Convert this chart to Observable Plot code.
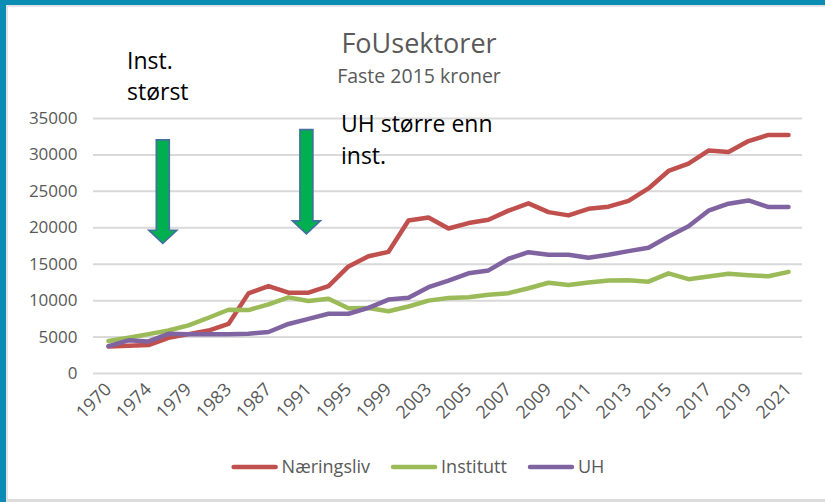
<!DOCTYPE html>
<html>
<head>
<meta charset="utf-8">
<script src="https://cdn.jsdelivr.net/npm/d3@7"></script>
<script src="https://cdn.jsdelivr.net/npm/@observablehq/plot@0.6"></script>
<style>
  html, body { margin: 0; padding: 0; background: #fff; }
  #chart { position: relative; width: 825px; height: 502px; overflow: hidden; background: #fff; font-family: "Open Sans", sans-serif; }
  #chart svg { position: absolute; left: 0; top: 0; }
  .band-top { position: absolute; left: 0; top: 0; width: 825px; height: 5px; background: #0a8cb4; z-index: 3; }
  .line-top { position: absolute; left: 0; top: 5px; width: 825px; height: 2px; background: #e3e3e3; z-index: 2; }
  .band-left { position: absolute; left: 0; top: 0; width: 6px; height: 502px; background: #0a8cb4; z-index: 3; }
  .line-left { position: absolute; left: 6px; top: 0; width: 2px; height: 502px; background: #e3e3e3; z-index: 2; }
  .line-bottom { position: absolute; left: 0; top: 499px; width: 825px; height: 3px; background: #dcdcdc; z-index: 2; }
</style>
</head>
<body>
<div id="chart">
  <div class="band-top"></div><div class="line-top"></div>
  <div class="band-left"></div><div class="line-left"></div>
  <div class="line-bottom"></div>
</div>
<script>
// ---- data ----
const years = ["1970","1972","1974","1977","1979","1981","1983","1985","1987","1989","1991","1993","1995","1997","1999","2001","2003","2004","2005","2006","2007","2008","2009","2010","2011","2012","2013","2014","2015","2016","2017","2018","2019","2020","2021"];
const naeringsliv = [3700,3800,3900,4900,5400,5900,6800,11000,12000,11100,11100,12000,14700,16100,16700,21000,21400,19900,20650,21100,22350,23350,22150,21700,22600,22900,23700,25400,27800,28800,30600,30400,31900,32750,32750];
const institutt   = [4450,4900,5400,5900,6600,7650,8750,8700,9500,10450,9950,10250,8950,9000,8550,9200,10000,10350,10480,10800,11030,11700,12450,12150,12500,12750,12800,12600,13750,12950,13300,13700,13500,13350,13950];
const uh          = [3750,4550,4400,5450,5400,5400,5400,5450,5700,6800,7500,8200,8200,9000,10150,10400,11850,12750,13750,14150,15750,16650,16300,16300,15900,16300,16800,17250,18800,20200,22350,23300,23750,22850,22850];
const seriesNames = ["Næringsliv","Institutt","UH"];
const seriesColors = ["#c0504d","#9bbb59","#8064a2"];
const yTicks = [0,5000,10000,15000,20000,25000,30000,35000];
const xTickLabels = years.filter((d, i) => i % 2 === 0);
const titleText = "FoUsektorer";
const subtitleText = "Faste 2015 kroner";
const noteLeft = ["Inst.", "størst"];
const noteRight = ["UH større enn", "inst."];
// arrow annotations: anchor category, fraction of a step to the next category, top value, tip value
const arrowNotes = [
  {year: "1974", frac: 0.74, top: 32000, tip: 17800},
  {year: "1991", frac: -0.08, top: 33400, tip: 19100}
];

// ---- table ----
const seriesValues = [naeringsliv, institutt, uh];
const rows = [];
seriesNames.forEach((s, k) => {
  years.forEach((y, i) => rows.push({year: y, value: seriesValues[k][i], series: s}));
});

const textColor = "#595959";

const plot = Plot.plot({
  width: 825,
  height: 502,
  marginLeft: 93,
  marginRight: 23,
  marginTop: 118,
  marginBottom: 129,
  style: {fontFamily: "Open Sans, sans-serif", fontSize: "17px", color: textColor, background: "transparent", overflow: "visible"},
  x: {type: "point", domain: years, padding: 0.5},
  y: {domain: [0, 35000]},
  color: {domain: seriesNames, range: seriesColors},
  marks: [
    Plot.gridY(yTicks, {stroke: "#d9d9d9", strokeOpacity: 1, strokeWidth: 2}),
    Plot.axisY(yTicks, {tickSize: 0, tickPadding: 16, tickFormat: d => String(d), label: null, fill: textColor, fontSize: 17}),
    Plot.axisX(xTickLabels, {tickSize: 0, tickPadding: 13, tickRotate: -45, label: null, fill: textColor, fontSize: 18}),
    Plot.line(rows, {x: "year", y: "value", z: "series", stroke: "series", strokeWidth: 4.5, strokeLinejoin: "round", strokeLinecap: "round"})
  ]
});

document.getElementById("chart").appendChild(plot);

// ---- annotations ----
const svg = d3.select(plot);
const xs = plot.scale("x");
const ys = plot.scale("y");
const step = xs.apply(years[1]) - xs.apply(years[0]);

arrowNotes.forEach(a => {
  const cx = xs.apply(a.year) + a.frac * step;
  const yTop = ys.apply(a.top);
  const yTip = ys.apply(a.tip);
  const sw = 6.5, hw = 14, hl = 13;
  const pts = [[cx - sw, yTop], [cx + sw, yTop], [cx + sw, yTip - hl], [cx + hw, yTip - hl], [cx, yTip], [cx - hw, yTip - hl], [cx - sw, yTip - hl]];
  svg.append("polygon")
    .attr("points", pts.map(p => p.join(",")).join(" "))
    .attr("fill", "#00b050")
    .attr("stroke", "#41719c")
    .attr("stroke-width", 1.6)
    .attr("stroke-linejoin", "miter");
});

const g = svg.append("g").attr("font-family", "Open Sans, sans-serif");
g.append("text").attr("x", 419).attr("y", 53).attr("text-anchor", "middle")
  .attr("font-size", 27).attr("fill", textColor).text(titleText);
g.append("text").attr("x", 419).attr("y", 83).attr("text-anchor", "middle")
  .attr("font-size", 19.5).attr("fill", textColor).text(subtitleText);

noteLeft.forEach((t, i) => g.append("text").attr("x", 127).attr("y", 69 + i * 31)
  .attr("text-anchor", "start").attr("font-size", 23).attr("fill", "#000").text(t));
noteRight.forEach((t, i) => g.append("text").attr("x", 341).attr("y", 132 + i * 32)
  .attr("text-anchor", "start").attr("font-size", 23).attr("fill", "#000").text(t));

// ---- legend ----
const lg = svg.append("g").attr("font-family", "Open Sans, sans-serif");
const swatchLen = 46, gapSw = 4, gapItem = 21, legendY = 467, legendCenter = 418;
const items = seriesNames.map((s, k) => {
  const t = lg.append("text").attr("font-size", 18).attr("fill", textColor)
    .attr("text-anchor", "start").attr("dy", "0.35em").attr("y", legendY).text(s);
  return {t, w: t.node().getComputedTextLength(), color: seriesColors[k]};
});
const total = items.reduce((acc, it) => acc + swatchLen + gapSw + it.w, 0) + gapItem * (items.length - 1);
let xpos = legendCenter - total / 2;
items.forEach(it => {
  lg.append("line").attr("x1", xpos + 2).attr("x2", xpos + swatchLen - 2)
    .attr("y1", legendY).attr("y2", legendY)
    .attr("stroke", it.color).attr("stroke-width", 4.5).attr("stroke-linecap", "round");
  it.t.attr("x", xpos + swatchLen + gapSw);
  xpos += swatchLen + gapSw + it.w + gapItem;
});
</script>
</body>
</html>
